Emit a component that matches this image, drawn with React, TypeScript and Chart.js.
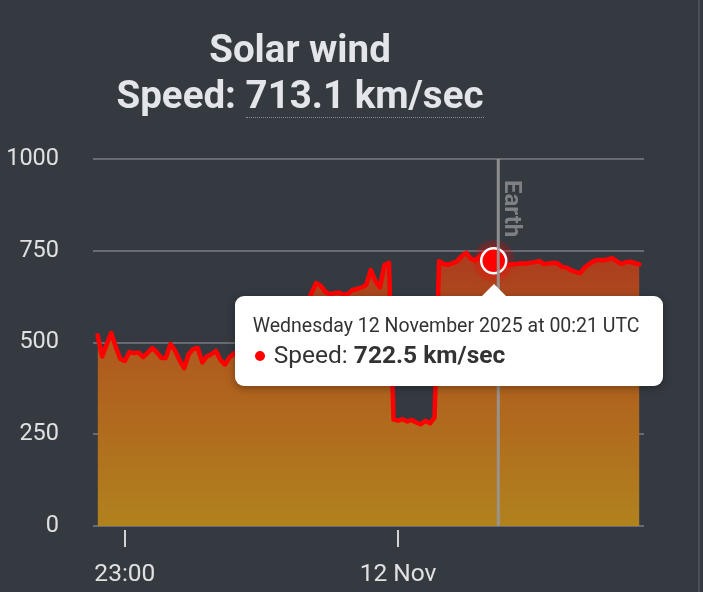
import React, { useEffect, useRef, useState } from "react";
import { Chart, registerables } from "chart.js";

Chart.register(...registerables);

// Minutes relative to 23:00 UTC (11 Nov). First sample is 22:54 UTC, one sample per minute.
const START_MINUTE = -6;
const SPEEDS: number[] = [
  520, 462, 495, 526, 488, 455, 450, 474, 471, 473,
  460, 472, 485, 474, 458, 458, 496, 478, 452, 430,
  468, 482, 485, 446, 462, 468, 477, 452, 440, 460,
  470, 478, 465, 488, 495, 482, 505, 520, 512, 530,
  548, 540, 565, 585, 578, 600, 612, 635, 662, 655,
  638, 632, 634, 636, 630, 633, 643, 646, 650, 657,
  698, 668, 650, 711, 717, 290, 287, 291, 285, 289,
  282, 277, 287, 280, 295, 722, 714, 712, 716, 722,
  736, 744, 728, 724, 735, 744, 738, 722.5, 714, 712,
  711, 713, 714, 716, 715, 717, 719, 722, 714, 715,
  717, 716, 706, 704, 697, 692, 689, 705, 714, 722,
  725, 724, 726, 730, 722, 714, 719, 720, 716, 713,
];
const X_TICKS = [0, 60];
const X_TICK_LABELS = ["23:00", "12 Nov"];
const Y_TICKS = [0, 250, 500, 750, 1000];
const X_MIN = -7;
const X_MAX = 114;
const EARTH_MINUTE = 82;
const EARTH_LABEL = "Earth";
const HOVER_INDEX = 87;
const HOVER_LABEL = "Wednesday 12 November 2025 at 00:21 UTC";
const SERIES_NAME = "Speed";
const UNIT = "km/sec";
const CURRENT_SPEED = 713.1;
const TITLE = "Solar wind";

const BG = "#353a41";
const FONT = "Roboto, 'Noto Sans', sans-serif";

const overlayPlugin = {
  id: "overlay",
  afterDatasetsDraw(chart: any) {
    const { ctx, chartArea, scales } = chart;
    const el = chart.getDatasetMeta(0).data[HOVER_INDEX];
    ctx.save();
    ctx.beginPath();
    ctx.arc(el.x, el.y, 21, 0, Math.PI * 2);
    ctx.fillStyle = "rgba(255,0,0,0.16)";
    ctx.fill();
    ctx.shadowColor = "rgba(255,0,0,0.8)";
    ctx.shadowBlur = 10;
    ctx.beginPath();
    ctx.arc(el.x, el.y, 12.5, 0, Math.PI * 2);
    ctx.fillStyle = "#ff0000";
    ctx.fill();
    ctx.shadowBlur = 0;
    ctx.lineWidth = 2.5;
    ctx.strokeStyle = "#ffffff";
    ctx.stroke();
    const ex = scales.x.getPixelForValue(EARTH_MINUTE);
    ctx.beginPath();
    ctx.moveTo(ex, chartArea.top);
    ctx.lineTo(ex, chartArea.bottom);
    ctx.lineWidth = 3;
    ctx.strokeStyle = "rgba(150,150,150,0.92)";
    ctx.stroke();
    ctx.translate(ex + 7, chartArea.top + 21);
    ctx.rotate(Math.PI / 2);
    ctx.font = "bold 24px Roboto";
    ctx.fillStyle = "#7e8084";
    ctx.textBaseline = "alphabetic";
    ctx.textAlign = "left";
    ctx.fillText(EARTH_LABEL, 0, 0);
    ctx.restore();
  },
  afterDraw(chart: any) {
    const { ctx, chartArea, scales } = chart;
    ctx.save();
    ctx.strokeStyle = "#d4d4d4";
    ctx.lineWidth = 2;
    X_TICKS.forEach((v) => {
      const x = Math.round(scales.x.getPixelForValue(v));
      ctx.beginPath();
      ctx.moveTo(x, chartArea.bottom + 4);
      ctx.lineTo(x, chartArea.bottom + 21);
      ctx.stroke();
    });
    ctx.restore();
  },
};

export default function App() {
  const canvasRef = useRef<HTMLCanvasElement>(null);
  const [tip, setTip] = useState<{ x: number; y: number } | null>(null);

  useEffect(() => {
    const canvas = canvasRef.current;
    if (!canvas) return;
    const chart = new Chart(canvas, {
      type: "line",
      data: {
        datasets: [
          {
            label: SERIES_NAME,
            data: SPEEDS.map((v, i) => ({ x: START_MINUTE + i, y: v })),
            borderColor: "#ff0000",
            borderWidth: 4.5,
            borderJoinStyle: "round",
            borderCapStyle: "round",
            pointRadius: 0,
            tension: 0,
            fill: "origin",
            backgroundColor: (c: any) => {
              const area = c.chart.chartArea;
              if (!area) return "rgb(175,90,30)";
              const g = c.chart.ctx.createLinearGradient(0, area.top, 0, area.bottom);
              g.addColorStop(0, "rgb(168,28,30)");
              g.addColorStop(0.5, "rgb(175,88,30)");
              g.addColorStop(1, "rgb(177,130,30)");
              return g;
            },
          },
        ],
      },
      options: {
        responsive: false,
        animation: false,
        layout: { padding: { top: 159, right: 59, left: 0, bottom: 0 } },
        plugins: {
          legend: { display: false },
          tooltip: { enabled: false },
          title: { display: false },
        },
        scales: {
          x: {
            type: "linear",
            min: X_MIN,
            max: X_MAX,
            grid: { display: false, drawTicks: false },
            border: { display: false },
            afterFit: (s: any) => {
              s.height = 66;
            },
            afterBuildTicks: (s: any) => {
              s.ticks = X_TICKS.map((v) => ({ value: v }));
            },
            ticks: {
              autoSkip: false,
              maxRotation: 0,
              padding: 34,
              color: "#e0e0e0",
              font: { family: FONT, size: 24.5 },
              callback: (v: any) => X_TICK_LABELS[X_TICKS.indexOf(Number(v))],
            },
          },
          y: {
            min: 0,
            max: 1000,
            grid: { color: "#686c72", lineWidth: 2, drawTicks: false },
            border: { display: false },
            afterFit: (s: any) => {
              s.width = 93;
            },
            afterBuildTicks: (s: any) => {
              s.ticks = Y_TICKS.map((v) => ({ value: v }));
            },
            ticks: {
              padding: 34,
              color: "#e0e0e0",
              font: { family: FONT, size: 23.5 },
              callback: (v: any) => String(v),
            },
          },
        },
      },
      plugins: [overlayPlugin],
    } as any);
    const el: any = chart.getDatasetMeta(0).data[HOVER_INDEX];
    setTip({ x: el.x, y: el.y });
    return () => {
      chart.destroy();
    };
  }, []);

  return (
    <div
      style={{
        position: "fixed",
        left: 0,
        top: 0,
        width: 703,
        height: 592,
        overflow: "hidden",
        background: BG,
        fontFamily: FONT,
      }}
    >
      <div
        style={{
          position: "absolute",
          left: 698,
          top: 0,
          width: 2,
          height: 592,
          background: "#4a4f57",
        }}
      />
      <canvas
        ref={canvasRef}
        width={703}
        height={592}
        style={{ position: "absolute", left: 0, top: 0, display: "block" }}
      />
      <div
        style={{
          position: "absolute",
          left: 0,
          top: 26,
          width: 600,
          textAlign: "center",
          fontWeight: 700,
          fontSize: 38.5,
          lineHeight: "46px",
          color: "#e3e5ea",
          whiteSpace: "nowrap",
        }}
      >
        <div>{TITLE}</div>
        <div>
          {SERIES_NAME}:{" "}
          <span style={{ borderBottom: "1px dotted #8a8d92" }}>
            {CURRENT_SPEED.toFixed(1)} {UNIT}
          </span>
        </div>
      </div>
      {tip && (
        <div
          style={{
            position: "absolute",
            left: tip.x - 259,
            top: tip.y + 35,
            width: 428,
            height: 90,
            background: "#ffffff",
            borderRadius: 9,
            boxShadow: "0 2px 8px rgba(0,0,0,0.35)",
            color: "#333333",
          }}
        >
          <div
            style={{
              position: "absolute",
              left: 259 - 12,
              top: -12,
              width: 0,
              height: 0,
              borderLeft: "12px solid transparent",
              borderRight: "12px solid transparent",
              borderBottom: "12px solid #ffffff",
            }}
          />
          <div
            style={{
              position: "absolute",
              left: 18,
              top: 18,
              fontSize: 19.5,
              lineHeight: "24px",
              whiteSpace: "nowrap",
            }}
          >
            {HOVER_LABEL}
          </div>
          <div
            style={{
              position: "absolute",
              left: 20,
              top: 55,
              width: 10,
              height: 10,
              borderRadius: 5,
              background: "#ff0000",
            }}
          />
          <div
            style={{
              position: "absolute",
              left: 39,
              top: 44,
              fontSize: 24.5,
              lineHeight: "29px",
              whiteSpace: "nowrap",
            }}
          >
            {SERIES_NAME}: <b>{SPEEDS[HOVER_INDEX].toFixed(1)} {UNIT}</b>
          </div>
        </div>
      )}
    </div>
  );
}
